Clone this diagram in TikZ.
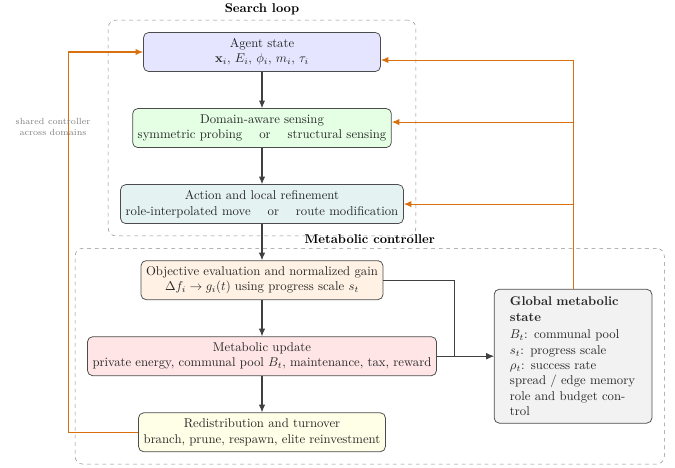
\documentclass[tikz,border=0pt]{standalone}
\usetikzlibrary{positioning,fit,arrows.meta}
\definecolor{fbor}{HTML}{D9700F}
\tikzset{
  stage/.style={draw=black!70, rounded corners=4pt, align=center, minimum height=30.6pt,
    inner xsep=4pt, line width=0.6pt, text=black!85},
  flow/.style={-{Latex[length=6pt,width=5pt]}, draw=black!75, line width=0.8pt},
  fb/.style={-{Latex[length=6pt,width=5pt]}, draw=fbor, line width=0.8pt},
  group/.style={draw=gray!90, dashed, rounded corners=6pt, inner sep=9.4pt},
  grouptitle/.style={font=\bfseries}
}
\begin{document}
\begin{tikzpicture}[x=0.785pt, y=-0.785pt, node distance=28.5pt]
  \useasboundingbox (0,0) rectangle (675,468);
  % search loop
  \node[stage, fill=blue!10, minimum width=186pt] (agent) at (262,52)
    {Agent state\\ $\mathbf{x}_i$, $E_i$, $\phi_i$, $m_i$, $\tau_i$};
  \node[stage, fill=green!10, below=of agent] (sense)
    {Domain-aware sensing\\ symmetric probing \quad or \quad structural sensing};
  \node[stage, fill=teal!10, below=of sense] (act)
    {Action and local refinement\\ role-interpolated move \quad or \quad route modification};
  % metabolic controller
  \node[stage, fill=orange!10, below=of act] (obj)
    {Objective evaluation and normalized gain\\ $\Delta f_i \to g_i(t)$ using progress scale $s_t$};
  \node[stage, fill=red!10, below=of obj] (upd)
    {Metabolic update\\ private energy, communal pool $B_t$, maintenance, tax, reward};
  \node[stage, fill=gray!10, right=44.7pt of upd, align=left, text width=99pt,
    inner xsep=12.4pt, inner ysep=6pt] (glob)
    {\textbf{Global metabolic}\\ \textbf{state}\\[2pt]
     $B_t$: communal pool\\ $s_t$: progress scale\\ $\rho_t$: success rate\\
     spread / edge memory\\ role and budget con-\\trol};
  \node[stage, fill=yellow!10, below=of upd] (redist)
    {Redistribution and turnover\\ branch, prune, respawn, elite reinvestment};
  % containers
  \node[group, fit=(agent)(sense)(act), label={[grouptitle]above:Search loop}] (loop) {};
  \node[group, fit=(obj)(upd)(redist)(glob), label={[grouptitle]above:Metabolic controller}] (ctrl) {};
  % main flow
  \draw[flow] (agent) -- (sense);
  \draw[flow] (sense) -- (act);
  \draw[flow] (act) -- (obj);
  \draw[flow] (obj) -- (upd);
  \draw[flow] (upd) -- (redist);
  \draw[flow] (obj.east) -- ++(55.7pt,0) |- (glob.west);
  \draw[flow] (upd.east) -- (glob.west);
  % feedback
  \draw[fb] (glob.north) |- ([yshift=-6.3pt]agent.east);
  \draw[fb] (glob.north) |- ([yshift=4.7pt]sense.east);
  \draw[fb] (glob.north) |- (act.east);
  \draw[fb] (redist.west) -- ++(-55pt,0) |- (agent.west);
  \node[font=\scriptsize, text=gray, align=center] (note) at (53,127)
    {shared controller\\across domains};
\end{tikzpicture}
\end{document}
